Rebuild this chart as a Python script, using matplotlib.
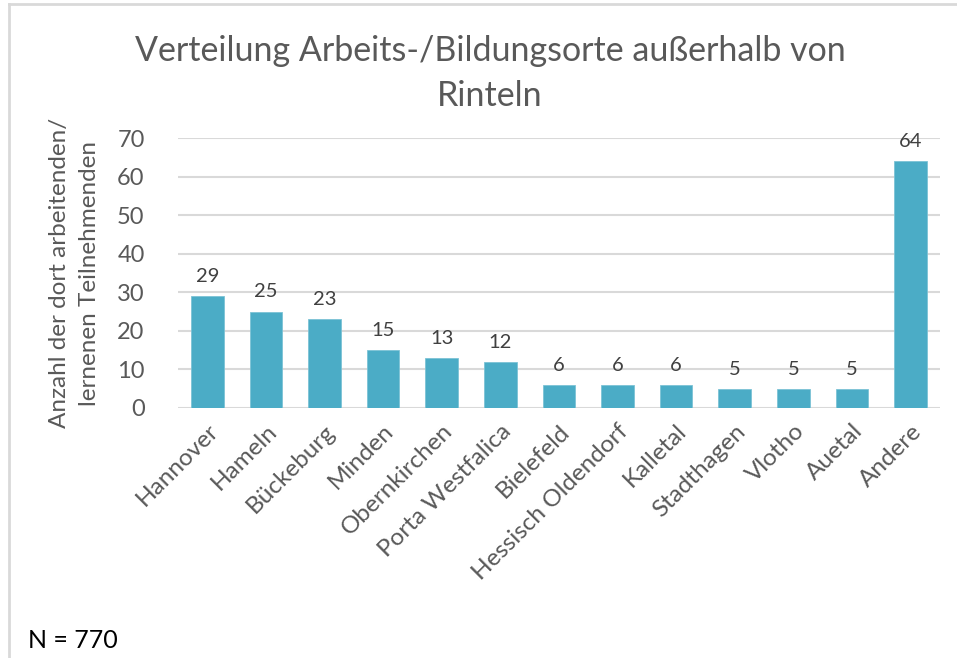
import matplotlib.pyplot as plt
from matplotlib.lines import Line2D

orte = ["Hannover", "Hameln", "Bückeburg", "Minden", "Obernkirchen", "Porta Westfalica",
        "Bielefeld", "Hessisch Oldendorf", "Kalletal", "Stadthagen", "Vlotho", "Auetal", "Andere"]
anzahl = [29, 25, 23, 15, 13, 12, 6, 6, 6, 5, 5, 5, 64]
yticks = [0, 10, 20, 30, 40, 50, 60, 70]

grau = "#595959"
plt.rcParams['font.family'] = ['Lato', 'DejaVu Sans']

def main():
    fig = plt.figure(figsize=(9.57, 6.58), dpi=100)
    ax = fig.add_axes([0.186, 0.380, 0.796, 0.410])

    x = list(range(len(orte)))
    ax.bar(x, anzahl, width=0.555, color="#4bacc6", edgecolor="#7cc3d6", linewidth=0.6, zorder=3)
    for xi, v in zip(x, anzahl):
        ax.annotate(str(v), (xi, v), xytext=(0, 8), textcoords="offset points",
                    ha="center", va="bottom", fontsize=14.5, color="#404040")

    ax.set_xlim(-0.5, len(orte) - 0.5)
    ax.set_ylim(0, 70)
    ax.set_yticks(yticks)
    ax.yaxis.grid(True, color="#d9d9d9", linewidth=1.5, zorder=0)
    ax.set_axisbelow(True)
    for s in ax.spines.values():
        s.set_visible(False)
    ax.tick_params(axis="both", length=0, labelsize=17, colors=grau)
    ax.tick_params(axis="y", pad=24)
    ax.set_xticks(x)
    ax.set_xticklabels(orte, rotation=45, ha="right", rotation_mode="anchor")
    ax.tick_params(axis="x", labelsize=17.5, pad=9)

    ax.set_ylabel("Anzahl der dort arbeitenden/\nlernenen Teilnehmenden", fontsize=17.5,
                  color=grau, linespacing=1.55, labelpad=12)

    fig.text(0.512, 0.922, "Verteilung Arbeits-/Bildungsorte außerhalb von", ha="center",
             va="center", fontsize=24.5, color=grau)
    fig.text(0.512, 0.854, "Rinteln", ha="center", va="center", fontsize=24.5, color=grau)

    fig.text(0.029, 0.027, "N = 770", ha="left", va="center", fontsize=18, color="black")

    # Rahmen links und oben
    fig.add_artist(Line2D([0.009, 0.009], [0.0, 0.994], transform=fig.transFigure,
                          color="#d9d9d9", linewidth=2))
    fig.add_artist(Line2D([0.009, 1.0], [0.994, 0.994], transform=fig.transFigure,
                          color="#d9d9d9", linewidth=2))

    fig.savefig("out.png", dpi=100)

if __name__ == "__main__":
    main()
